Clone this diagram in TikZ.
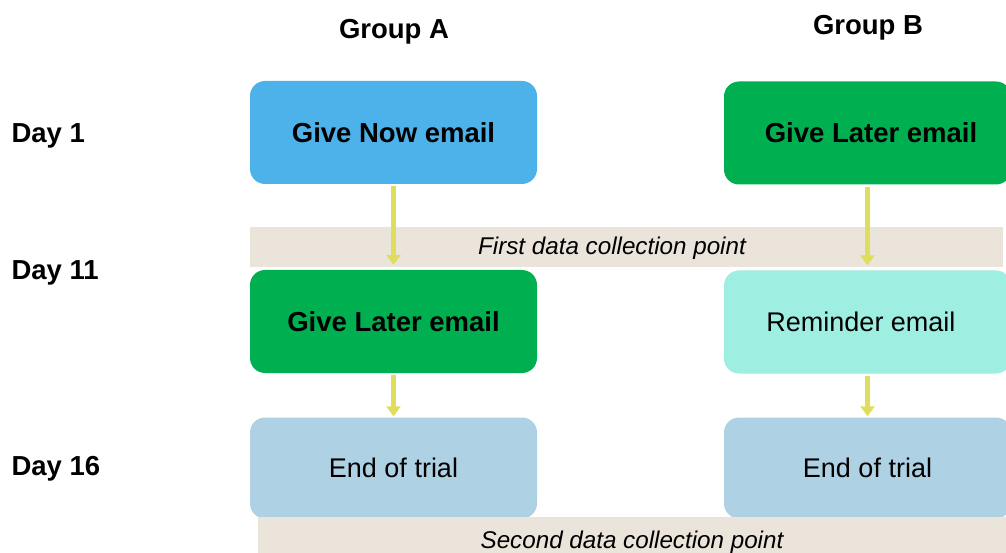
\documentclass[tikz,border=0pt]{standalone}
\usepackage{fontspec}
\setmainfont{Liberation Sans}
\usetikzlibrary{arrows.meta}
\definecolor{nowblue}{HTML}{4DB1EA}
\definecolor{latergreen}{HTML}{00B050}
\definecolor{remteal}{HTML}{9EEEE1}
\definecolor{endblue}{HTML}{AED1E4}
\definecolor{bandbeige}{HTML}{EAE4DA}
\definecolor{arrowyel}{HTML}{DEDE5C}
\tikzset{
 stepbox/.style={rectangle, rounded corners=15pt, minimum width=287pt, minimum height=103pt, inner sep=0pt, text=black},
 boldtxt/.style={font=\fontsize{27.5}{31}\selectfont\bfseries},
 regtxt/.style={font=\fontsize{27}{31}\selectfont},
 bandtxt/.style={font=\fontsize{24.2}{28}\selectfont\itshape},
 band/.style={rectangle, fill=bandbeige, inner sep=0pt},
 flow/.style={draw=arrowyel, line width=5pt, -{Triangle[width=14pt,length=10pt]}},
}
\begin{document}
\begin{tikzpicture}[x=1pt,y=-1pt]
\useasboundingbox (0,0) rectangle (1006,553);
\clip (0,0) rectangle (1006,553);
% headers
\node[boldtxt] (ga) at (394,32) {Group A};
\node[boldtxt] (gb) at (868,28) {Group B};
\node[boldtxt, anchor=west] (d1) at (8,136) {Day 1};
\node[boldtxt, anchor=west] (d11) at (8,273) {Day 11};
\node[boldtxt, anchor=west] (d16) at (8,469) {Day 16};
% band 1
\node[band, minimum width=753pt, minimum height=40pt] (band1) at (626.5,247) {};
\node[bandtxt] (band1t) at (612,248) {First data collection point};
% boxes
\node[stepbox, fill=nowblue, boldtxt] (a1) at (393.5,132.5) {Give Now email};
\node[stepbox, fill=latergreen, boldtxt] (b1) at (867.5,133) {\hspace*{7pt}Give Later email};
\node[stepbox, fill=latergreen, boldtxt] (a2) at (393.5,321.5) {Give Later email};
\node[stepbox, fill=remteal, regtxt] (b2) at (867.5,322) {Reminder email\hspace*{13pt}};
\node[stepbox, fill=endblue, regtxt, minimum height=101pt] (a3) at (393.5,468) {End of trial};
\node[stepbox, fill=endblue, regtxt, minimum height=101pt] (b3) at (867.5,468) {End of trial};
% band 2
\node[band, minimum width=760pt, minimum height=40pt, anchor=north west] (band2) at (258,517) {};
\node[bandtxt] (band2t) at (632,542) {Second data collection point};
% arrows
\draw[flow, shorten <=2pt, shorten >=5pt] (a1.south) -- (a2.north);
\draw[flow, shorten <=2pt, shorten >=5pt] (b1.south) -- (b2.north);
\draw[flow, shorten <=2pt, shorten >=1pt] (a2.south) -- (a3.north);
\draw[flow, shorten <=2pt, shorten >=1pt] (b2.south) -- (b3.north);
\end{tikzpicture}
\end{document}
